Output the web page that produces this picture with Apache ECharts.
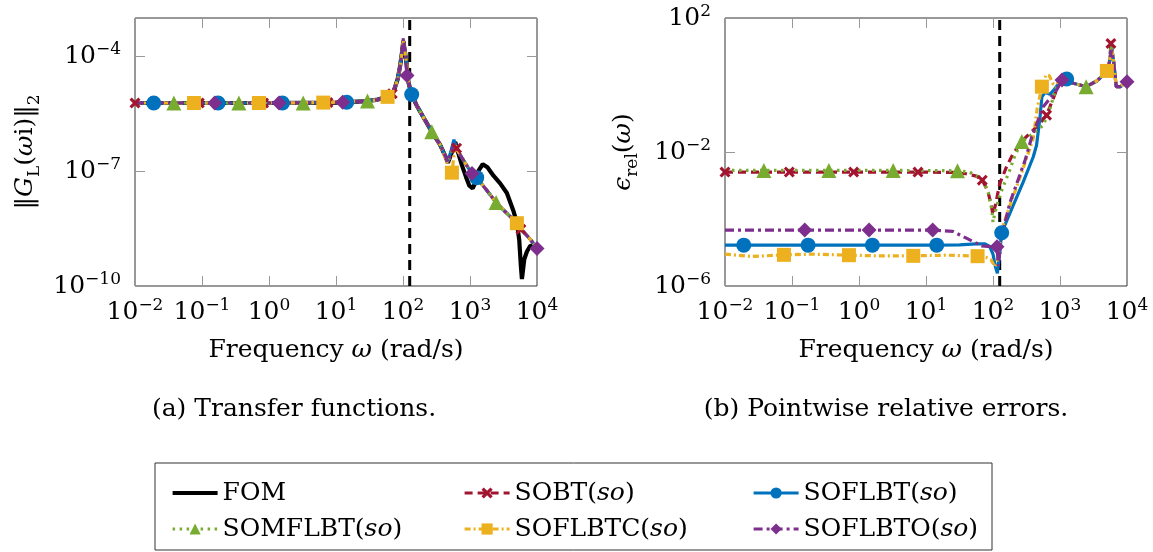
<!DOCTYPE html>
<html><head><meta charset="utf-8">
<script src="https://cdn.jsdelivr.net/npm/echarts@6/dist/echarts.min.js"></script>
<style>html,body{margin:0;padding:0;background:#fff}#c{width:1153px;height:552px}</style>
</head><body><div id="c"></div>
<script>
// All positions along the axes are in decades (log10).
const xTicks = [-2, -1, 0, 1, 2, 3, 4];
const yRangeA = [-10, -3];
const yTicksA = [-10, -7, -4];
const yRangeB = [-6, 2];
const yTicksB = [-6, -2, 2];
const cutoff = 2.1;

const names = ['FOM', 'SOBT(so)', 'SOFLBT(so)', 'SOMFLBT(so)', 'SOFLBTC(so)', 'SOFLBTO(so)'];

// marker frequencies (log10 ω)
const mkSOBT = [-2, -1.04, -0.08, 0.88, 1.84, 2.8, 3.76];
const mkSOFLBT = [-1.72, -0.76, 0.2, 1.16, 2.13, 3.1];
const mkSOMFLBT = [-1.42, -0.45, 0.51, 1.47, 2.43, 3.39];
const mkSOFLBTC = [-1.12, -0.15, 0.81, 1.77, 2.73, 3.7];
const mkSOFLBTO = [-0.81, 0.15, 1.1, 2.06, 3.03, 4];

// (a) transfer functions: [log10 ω, log10 ||G||]
const fomA = [[-2,-5.22],[-1,-5.22],[0,-5.22],[1,-5.21],[1.4,-5.18],[1.6,-5.14],[1.76,-5.06],[1.855,-4.95],[1.92,-4.6],[1.955,-4.27],[1.985,-3.9],[2.005,-3.6],[2.03,-3.9],[2.055,-4.2],[2.07,-4.55],[2.09,-4.75],[2.13,-5.0],[2.2,-5.27],[2.3,-5.58],[2.43,-5.97],[2.55,-6.3],[2.63,-6.6],[2.67,-6.78],[2.72,-6.55],[2.76,-6.3],[2.78,-6.24],[2.82,-6.5],[2.88,-6.85],[2.94,-7.15],[2.99,-7.38],[3.04,-7.45],[3.08,-7.3],[3.13,-6.98],[3.19,-6.82],[3.26,-6.9],[3.35,-7.12],[3.45,-7.32],[3.55,-7.57],[3.65,-8.05],[3.7,-8.35],[3.735,-8.8],[3.76,-9.5],[3.775,-9.82],[3.79,-9.6],[3.81,-9.3],[3.85,-9.1],[3.9,-8.95],[3.95,-8.95],[4,-9.0]];
const sobtA = [[-2,-5.22],[-1.04,-5.22],[-0.08,-5.22],[0.88,-5.21],[1.4,-5.18],[1.6,-5.14],[1.76,-5.06],[1.84,-4.98],[1.92,-4.6],[1.955,-4.27],[1.985,-3.9],[2.005,-3.58],[2.03,-3.9],[2.055,-4.2],[2.07,-4.55],[2.09,-4.75],[2.13,-5.0],[2.2,-5.27],[2.3,-5.58],[2.43,-5.97],[2.55,-6.3],[2.63,-6.6],[2.67,-6.76],[2.72,-6.52],[2.76,-6.28],[2.78,-6.24],[2.8,-6.4],[2.83,-6.5],[2.88,-6.65],[2.95,-6.85],[3.03,-7.06],[3.1,-7.17],[3.25,-7.5],[3.39,-7.82],[3.55,-8.1],[3.7,-8.36],[3.76,-8.52],[3.9,-8.78],[4,-9.02]];
const soflbtA = [[-2,-5.22],[-1.72,-5.22],[-0.76,-5.22],[0.2,-5.22],[1.16,-5.2],[1.4,-5.18],[1.6,-5.14],[1.76,-5.06],[1.855,-4.95],[1.92,-4.6],[1.955,-4.27],[1.985,-3.9],[2.005,-3.6],[2.03,-3.9],[2.055,-4.2],[2.07,-4.55],[2.09,-4.75],[2.13,-5.0],[2.2,-5.27],[2.3,-5.58],[2.43,-5.97],[2.55,-6.3],[2.63,-6.6],[2.67,-6.75],[2.72,-6.45],[2.76,-6.18],[2.775,-6.14],[2.8,-6.38],[2.83,-6.5],[2.88,-6.65],[2.95,-6.85],[3.03,-7.06],[3.1,-7.17],[3.25,-7.5],[3.39,-7.82],[3.55,-8.1],[3.7,-8.36],[3.78,-8.55],[3.9,-8.78],[4,-9.02]];
const somflbtA = [[-2,-5.22],[-1.42,-5.22],[-0.45,-5.22],[0.51,-5.22],[1.47,-5.17],[1.6,-5.14],[1.76,-5.06],[1.855,-4.95],[1.92,-4.6],[1.955,-4.27],[1.985,-3.9],[2.005,-3.6],[2.03,-3.9],[2.055,-4.2],[2.07,-4.55],[2.09,-4.75],[2.13,-5.0],[2.2,-5.27],[2.3,-5.58],[2.43,-5.97],[2.55,-6.3],[2.63,-6.6],[2.67,-6.78],[2.72,-6.52],[2.76,-6.28],[2.78,-6.24],[2.82,-6.48],[2.88,-6.65],[2.95,-6.85],[3.03,-7.06],[3.1,-7.17],[3.25,-7.5],[3.39,-7.82],[3.55,-8.1],[3.7,-8.36],[3.78,-8.55],[3.9,-8.78],[4,-9.02]];
const soflbtcA = [[-2,-5.22],[-1.12,-5.22],[-0.15,-5.22],[0.81,-5.21],[1.4,-5.18],[1.6,-5.14],[1.77,-5.06],[1.855,-4.95],[1.92,-4.6],[1.955,-4.27],[1.985,-3.9],[2.005,-3.6],[2.03,-3.9],[2.055,-4.2],[2.07,-4.55],[2.09,-4.75],[2.13,-5.0],[2.2,-5.27],[2.3,-5.58],[2.43,-5.97],[2.55,-6.3],[2.63,-6.65],[2.68,-6.9],[2.73,-7.04],[2.76,-6.6],[2.785,-6.3],[2.82,-6.48],[2.88,-6.65],[2.95,-6.85],[3.03,-7.06],[3.1,-7.17],[3.25,-7.5],[3.39,-7.82],[3.55,-8.1],[3.7,-8.36],[3.78,-8.55],[3.9,-8.78],[4,-9.02]];
const soflbtoA = [[-2,-5.22],[-0.81,-5.22],[0.15,-5.22],[1.1,-5.2],[1.4,-5.18],[1.6,-5.14],[1.76,-5.06],[1.855,-4.95],[1.92,-4.6],[1.955,-4.27],[1.985,-3.9],[2.005,-3.53],[2.03,-3.9],[2.06,-4.5],[2.09,-4.75],[2.13,-5.0],[2.2,-5.27],[2.3,-5.58],[2.43,-5.97],[2.55,-6.3],[2.63,-6.6],[2.67,-6.76],[2.72,-6.52],[2.76,-6.28],[2.78,-6.24],[2.82,-6.48],[2.88,-6.65],[2.95,-6.85],[3.03,-7.06],[3.1,-7.17],[3.25,-7.5],[3.39,-7.82],[3.55,-8.1],[3.7,-8.36],[3.78,-8.55],[3.9,-8.78],[4,-9.02]];

// (b) pointwise relative errors: [log10 ω, log10 ε]
const sobtB = [[-2,-2.6],[-1.04,-2.6],[-0.08,-2.6],[0.88,-2.6],[1.4,-2.61],[1.6,-2.65],[1.75,-2.72],[1.84,-2.84],[1.92,-3.15],[1.97,-3.55],[2.0,-3.88],[2.04,-3.55],[2.1,-2.95],[2.2,-2.45],[2.3,-2.05],[2.45,-1.64],[2.6,-1.35],[2.7,-1.15],[2.8,-0.9],[2.9,-0.4],[3.0,0.12],[3.1,0.18],[3.2,0.05],[3.39,-0.05],[3.55,0.12],[3.7,0.4],[3.74,0.7],[3.76,1.24],[3.8,0.7],[3.84,-0.05],[3.9,-0.05],[4,0.1]];
const soflbtB = [[-2,-4.78],[-1.72,-4.78],[-0.76,-4.78],[0.2,-4.78],[1.16,-4.78],[1.5,-4.77],[1.75,-4.74],[1.88,-4.74],[1.95,-4.82],[2.0,-5.05],[2.04,-5.45],[2.065,-5.62],[2.09,-5.2],[2.13,-4.41],[2.3,-3.6],[2.45,-2.9],[2.6,-2.15],[2.65,-1.8],[2.7,-1.0],[2.73,-0.35],[2.78,-0.22],[2.85,-0.28],[2.92,-0.12],[3.0,0.1],[3.1,0.18],[3.2,0.05],[3.39,-0.05],[3.55,0.12],[3.7,0.4],[3.74,0.7],[3.77,1.15],[3.8,0.7],[3.84,-0.05],[3.9,-0.05],[4,0.1]];
const somflbtB = [[-2,-2.55],[-1.42,-2.55],[-0.45,-2.55],[0.51,-2.55],[1.47,-2.56],[1.65,-2.6],[1.76,-2.72],[1.86,-2.9],[1.93,-3.2],[1.98,-3.7],[2.0,-4.1],[2.03,-3.8],[2.1,-3.3],[2.25,-2.54],[2.33,-2.09],[2.43,-1.69],[2.6,-1.45],[2.75,-1.2],[2.85,-0.7],[2.95,-0.05],[3.1,0.18],[3.2,0.05],[3.39,-0.05],[3.55,0.12],[3.7,0.4],[3.74,0.7],[3.77,1.2],[3.8,0.7],[3.84,-0.05],[3.9,-0.05],[4,0.1]];
const soflbtcB = [[-2,-5.05],[-1.6,-5.12],[-1.12,-5.07],[-0.7,-5.05],[-0.15,-5.08],[0.3,-5.1],[0.81,-5.1],[1.3,-5.08],[1.77,-5.11],[1.9,-5.15],[1.97,-5.22],[2.03,-5.42],[2.07,-5.2],[2.12,-4.4],[2.2,-3.9],[2.43,-2.6],[2.6,-1.6],[2.66,-0.7],[2.73,-0.05],[2.79,0.3],[2.84,0.28],[2.9,0.02],[3.0,0.1],[3.1,0.18],[3.2,0.05],[3.39,-0.05],[3.55,0.12],[3.7,0.42],[3.74,0.7],[3.77,1.1],[3.8,0.7],[3.84,-0.05],[3.9,-0.05],[4,0.1]];
const soflbtoB = [[-2,-4.33],[-0.81,-4.33],[0.15,-4.33],[1.1,-4.33],[1.4,-4.37],[1.61,-4.58],[1.83,-4.8],[2.0,-4.83],[2.06,-4.83],[2.08,-5.4],[2.12,-4.6],[2.25,-3.53],[2.48,-2.24],[2.58,-1.54],[2.75,-0.65],[2.95,-0.15],[3.03,0.15],[3.1,0.18],[3.2,0.05],[3.39,-0.05],[3.55,0.12],[3.7,0.4],[3.74,0.7],[3.77,1.05],[3.8,0.7],[3.84,-0.05],[3.9,-0.05],[4,0.1]];

const FONT = '"DejaVu Serif", serif';
const FS = 25, SS = 17;
const CROSS = 'path://M2,0 L5,3 L8,0 L10,2 L7,5 L10,8 L8,10 L5,7 L2,10 L0,8 L3,5 L0,2 Z';

const styles = {
  'FOM':        {color:'#000000', width:4.2, type:'solid', symbol:'none', size:0},
  'SOBT(so)':   {color:'#A2142F', width:3.2, type:[8,5], symbol:CROSS, size:11},
  'SOFLBT(so)': {color:'#0072BD', width:3.2, type:'solid', symbol:'circle', size:15},
  'SOMFLBT(so)':{color:'#77AC30', width:3.2, type:[2.5,4.5], symbol:'triangle', size:15},
  'SOFLBTC(so)':{color:'#EDB120', width:3.2, type:[6,3,2,3], symbol:'rect', size:14},
  'SOFLBTO(so)':{color:'#7E2F8E', width:3.2, type:[9,4,3,4], symbol:'diamond', size:15}
};

function pow10(v){ return v < 0 ? '−' + (-v) : String(v); }
const tickRich = {
  b: {fontSize: FS, fontFamily: FONT, color:'#000', lineHeight: 30},
  s: {fontSize: SS, fontFamily: FONT, color:'#000', lineHeight: 30, verticalAlign:'top'}
};
function tickFmt(list){ return v => list.some(t => Math.abs(t - v) < 1e-9) ? '{b|10}{s|' + pow10(Math.round(v)) + '}' : ''; }
const nameRich = {
  n: {fontSize: FS, fontFamily: FONT, color:'#000', lineHeight: 36},
  it: {fontSize: FS, fontFamily: FONT, fontStyle:'italic', color:'#000', lineHeight: 36},
  sub: {fontSize: SS, fontFamily: FONT, color:'#000', lineHeight: 36, verticalAlign:'bottom'}
};

function series(name, data, marks, xi, yi){
  const st = styles[name];
  return {
    name, type:'line', xAxisIndex:xi, yAxisIndex:yi,
    data: data.map(p => (marks && marks.includes(p[0])) ? {value:p} : {value:p, symbol:'none'}),
    symbol: st.symbol, symbolSize: st.size, showSymbol: true, showAllSymbol: true,
    lineStyle: {color: st.color, width: st.width, type: st.type},
    itemStyle: {color: st.color},
    emphasis: {disabled: true}, silent: true, animation:false
  };
}
function cutSeries(xi, yi, range){
  return {type:'line', xAxisIndex:xi, yAxisIndex:yi, data:[[cutoff, range[0]],[cutoff, range[1]]],
    symbol:'none', lineStyle:{color:'#000', width:3, type:[10,6]}, silent:true, animation:false, z:1};
}

const gridA = {left:135, top:18, width:402, height:268};
const gridB = {left:725, top:18, width:402, height:268};
const tick = {show:true, inside:true, length:10, lineStyle:{color:'#999', width:1}};

function xAx(gi, pos, label, named){
  return {type:'value', gridIndex:gi, position:pos, min:xTicks[0], max:xTicks[xTicks.length-1], interval:1,
    axisLine:{show:false, onZero:false}, axisTick:tick, splitLine:{show:false},
    axisLabel: label ? {show:true, margin:11, formatter: tickFmt(xTicks), rich: tickRich} : {show:false},
    name: named ? '{n|Frequency }{it|ω}{n| (rad/s)}' : '', nameLocation:'middle', nameGap:46,
    nameMoveOverlap:false, nameTextStyle:{rich:nameRich}};
}
function yAx(gi, pos, range, ticks, label, nm, gap){
  return {type:'value', gridIndex:gi, position:pos, min:range[0], max:range[1], interval:ticks[1]-ticks[0],
    axisLine:{show:false, onZero:false}, axisTick:tick, splitLine:{show:false},
    axisLabel: label ? {show:true, margin:14, formatter: tickFmt(ticks), rich: tickRich} : {show:false},
    name: nm || '', nameLocation:'middle', nameGap: gap || 0, nameRotate:90, nameMoveOverlap:false,
    nameTextStyle:{rich:nameRich}};
}

const legendRich = {i:{fontStyle:'italic', fontSize:FS, fontFamily:FONT, color:'#000'}};
function legend(list, left){
  return {data:list, orient:'vertical', left:left, top:473, itemWidth:45, itemHeight:14, itemGap:6,
    selectedMode:false, formatter: n => n.replace('(so)', '({i|so})'),
    lineStyle:{width:3.2},
    textStyle:{fontSize:FS, fontFamily:FONT, color:'#000', lineHeight:30, rich:legendRich}};
}

const option = {
  animation:false,
  grid:[Object.assign({show:true, borderColor:'#333', borderWidth:1}, gridA), Object.assign({show:true, borderColor:'#333', borderWidth:1}, gridB)],
  xAxis:[xAx(0,'bottom',true,true), xAx(0,'top',false,false), xAx(1,'bottom',true,true), xAx(1,'top',false,false)],
  yAxis:[
    yAx(0,'left',yRangeA,yTicksA,true,'{n|‖}{it|G}{sub|L}{n|(}{it|ω}{n|i)‖}{sub|2}',92),
    yAx(0,'right',yRangeA,yTicksA,false),
    yAx(1,'left',yRangeB,yTicksB,true,'{it|ϵ}{sub|rel}{n|(}{it|ω}{n|)}',84),
    yAx(1,'right',yRangeB,yTicksB,false)
  ],
  legend:[
    legend([{name:names[0], icon:'path://M0,0 L45,0 L45,4.2 L0,4.2 Z'}, names[3]],166),
    legend([names[1],names[4]],458),
    legend([names[2],names[5]],747)
  ],
  graphic:[
    {type:'rect', shape:{x:155, y:463, width:837, height:87}, style:{fill:'none', stroke:'#333', lineWidth:1}, silent:true},
    {type:'text', x:294, y:409, style:{text:'(a) Transfer functions.', font:FS+'px '+FONT, fill:'#000', textAlign:'center', textVerticalAlign:'middle'}, silent:true},
    {type:'text', x:886, y:409, style:{text:'(b) Pointwise relative errors.', font:FS+'px '+FONT, fill:'#000', textAlign:'center', textVerticalAlign:'middle'}, silent:true}
  ],
  series:[
    cutSeries(0,0,yRangeA),
    series('FOM', fomA, null, 0, 0),
    series('SOBT(so)', sobtA, mkSOBT, 0, 0),
    series('SOFLBT(so)', soflbtA, mkSOFLBT, 0, 0),
    series('SOMFLBT(so)', somflbtA, mkSOMFLBT, 0, 0),
    series('SOFLBTC(so)', soflbtcA, mkSOFLBTC, 0, 0),
    series('SOFLBTO(so)', soflbtoA, mkSOFLBTO, 0, 0),
    cutSeries(2,2,yRangeB),
    series('SOBT(so)', sobtB, mkSOBT, 2, 2),
    series('SOFLBT(so)', soflbtB, mkSOFLBT, 2, 2),
    series('SOMFLBT(so)', somflbtB, mkSOMFLBT, 2, 2),
    series('SOFLBTC(so)', soflbtcB, mkSOFLBTC, 2, 2),
    series('SOFLBTO(so)', soflbtoB, mkSOFLBTO, 2, 2)
  ]
};
const chart = echarts.init(document.getElementById('c'), null, {renderer:'canvas'});
chart.setOption(option);
</script>
</body></html>
